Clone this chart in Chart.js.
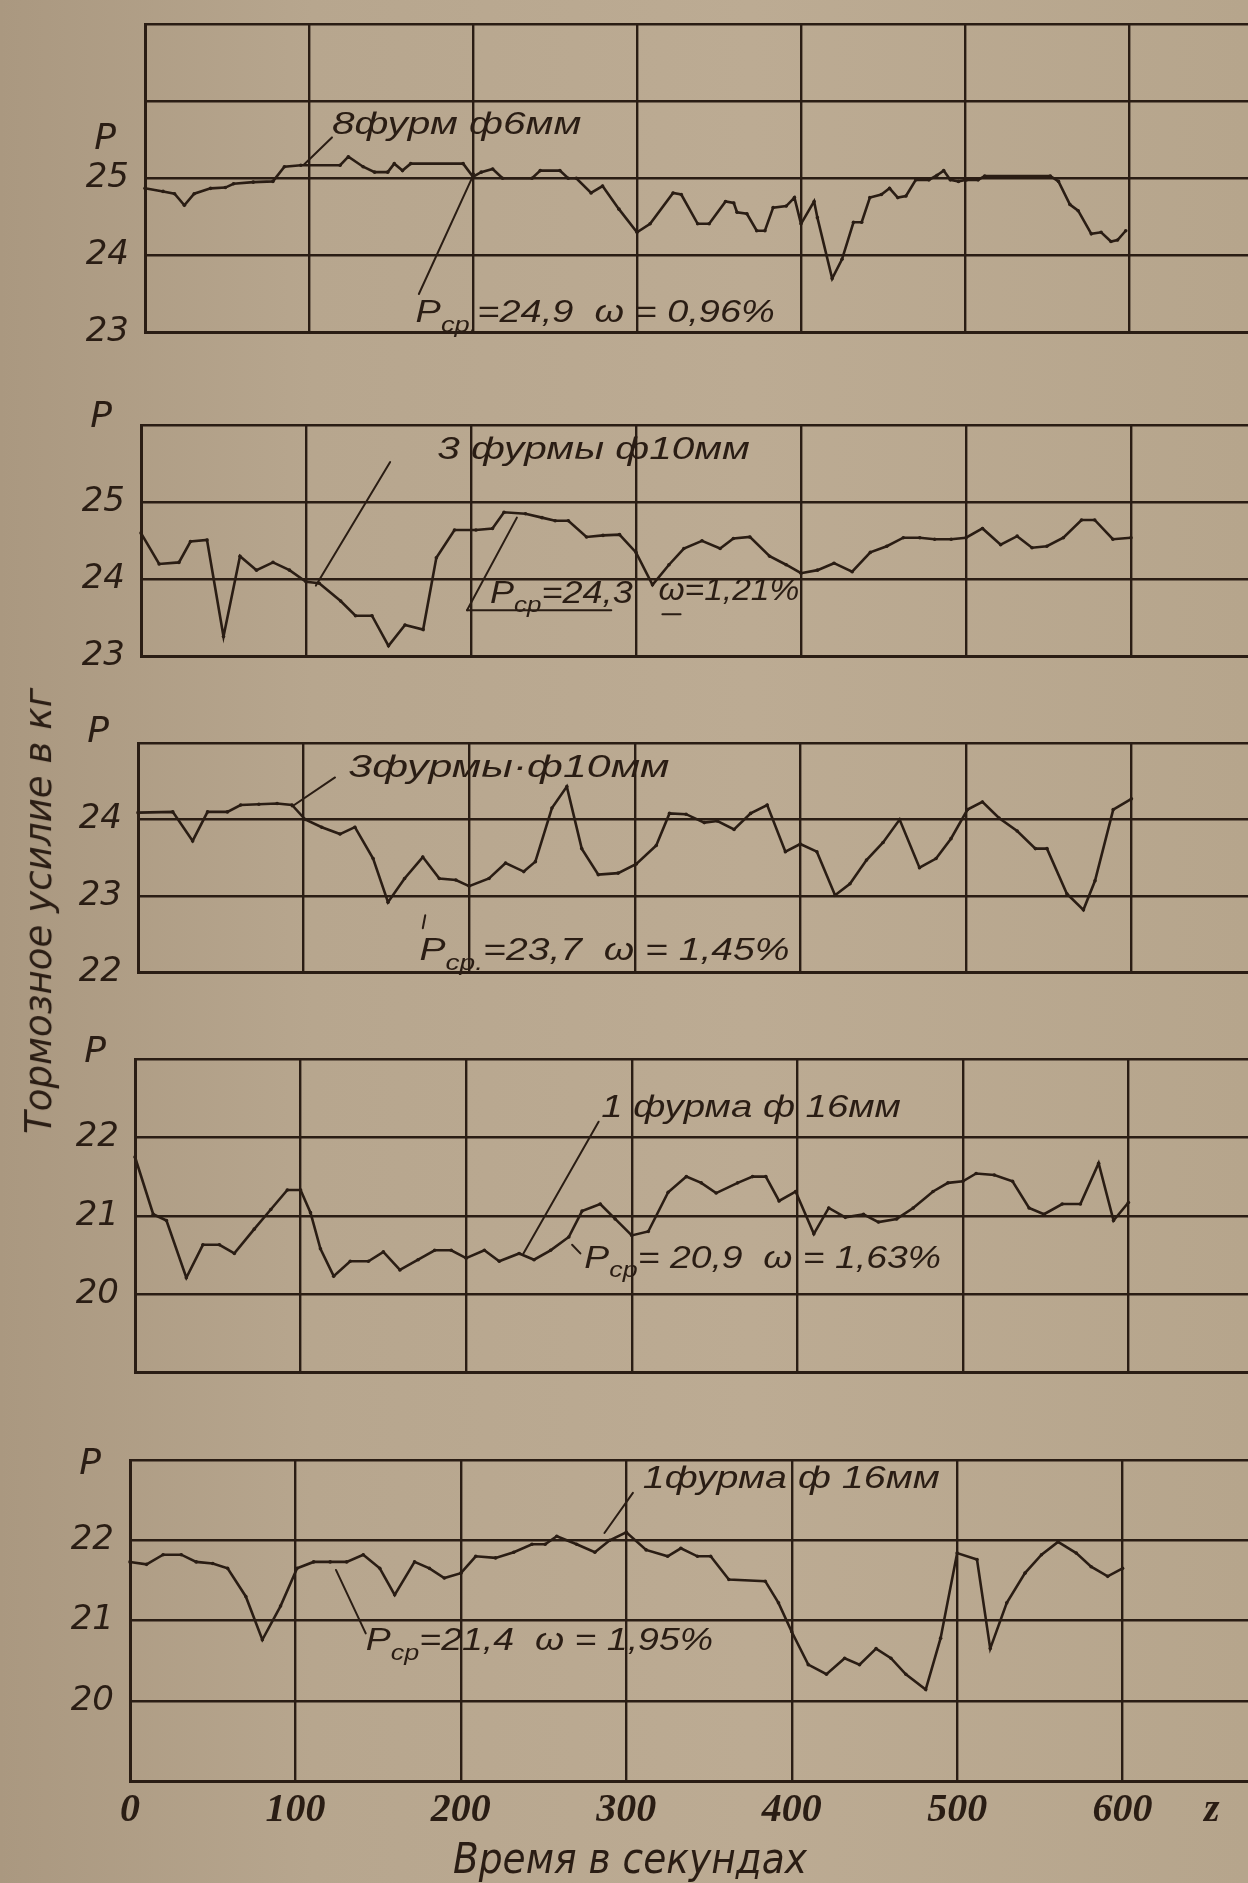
<!DOCTYPE html>
<html>
<head>
<meta charset="utf-8">
<title>Тормозное усилие</title>
<script src="https://cdn.jsdelivr.net/npm/chart.js@4.4.1/dist/chart.umd.min.js"></script>
<style>
html, body { margin: 0; padding: 0; width: 1248px; height: 1883px; overflow: hidden; }
body {
    position: relative;
    background: linear-gradient(90deg, #aa9880 0%, #b7a68e 25%, #bcab93 60%, #b6a58c 100%);
}
canvas { position: absolute; left: 0; }
.ttl {
    position: absolute;
    white-space: nowrap;
    font-family: 'Liberation Sans Narrow', 'DejaVu Sans', sans-serif;
    font-style: italic;
    color: #2a1d14;
    transform-origin: center center;
}
</style>
</head>
<body>
<canvas id="c1"></canvas>
<canvas id="c2"></canvas>
<canvas id="c3"></canvas>
<canvas id="c4"></canvas>
<canvas id="c5"></canvas>
<div id="ytitle" class="ttl" style="font-size:38px">Тормозное усилие в кг</div>
<div id="xtitle" class="ttl" style="font-size:42px">Время в секундах</div>

<script>
// Panel 1: 8 фурм ф6мм
const p1Time = [0, 11, 18, 24, 30, 40, 49, 54, 66, 78, 85, 95, 119, 124, 133, 140, 148, 152, 157, 162, 194, 200, 205, 212, 218, 236, 241, 253, 258, 263, 272, 279, 289, 300,
    308, 322, 327, 337, 344, 354, 359, 361, 367, 373, 378, 383, 391, 396, 400, 408, 410, 419, 425, 432, 437, 442, 449, 454, 459, 464, 470, 478, 483, 487, 491, 496, 501, 508, 512, 552, 557, 564, 569, 577, 583, 589, 593, 598];
const p1Force = [24.87, 24.83, 24.8, 24.65, 24.8, 24.87, 24.88, 24.93, 24.95, 24.96, 25.15, 25.17, 25.17, 25.28, 25.15, 25.08, 25.08, 25.19, 25.1, 25.19, 25.19, 25.02, 25.08, 25.12, 25.0, 25.0, 25.1, 25.1, 25.0, 25.0, 24.81, 24.9, 24.6, 24.3,
    24.41, 24.81, 24.79, 24.41, 24.41, 24.7, 24.68, 24.56, 24.54, 24.32, 24.32, 24.62, 24.64, 24.75, 24.41, 24.7, 24.49, 23.7, 23.95, 24.43, 24.43, 24.75, 24.79, 24.87, 24.75, 24.77, 24.98, 24.98, 25.04, 25.1, 24.98, 24.96, 24.98, 24.98, 25.03, 25.03, 24.96, 24.66, 24.58, 24.28, 24.3, 24.18, 24.2, 24.32];

// Panel 2: 3 фурмы ф10мм
const p2Time = [0, 11, 23, 30, 40, 50, 60, 70, 80, 90, 100, 108, 121, 130, 140, 150, 160, 171, 179, 190, 203, 213, 220, 233, 243, 251, 259, 270, 280, 290, 300,
    310, 320, 329, 340, 351, 359, 369, 381, 391, 400, 410, 420, 431, 442, 452, 462, 472, 481, 491, 500, 510, 521, 531, 540, 549, 559, 570, 578, 589, 600];
const p2Force = [24.6, 24.2, 24.22, 24.49, 24.51, 23.26, 24.3, 24.12, 24.22, 24.12, 23.97, 23.95, 23.72, 23.53, 23.53, 23.14, 23.41, 23.35, 24.28, 24.64, 24.64, 24.66, 24.87, 24.85, 24.8, 24.76, 24.76, 24.55, 24.57, 24.58, 24.35,
    23.93, 24.19, 24.4, 24.5, 24.4, 24.53, 24.55, 24.3, 24.19, 24.08, 24.12, 24.21, 24.1, 24.35, 24.43, 24.54, 24.54, 24.52, 24.52, 24.54, 24.66, 24.45, 24.56, 24.41, 24.43, 24.54, 24.77, 24.77, 24.52, 24.54];

// Panel 3: 3 фурмы ф10мм
const p3Time = [0, 21, 33, 42, 54, 62, 73, 84, 93, 101, 111, 122, 131, 142, 151, 161, 172, 182, 192, 200, 212, 222, 233, 240, 250, 259, 268, 278, 290, 301,
    313, 321, 331, 342, 350, 360, 370, 380, 391, 400, 410, 421, 430, 440, 450, 460, 472, 482, 491, 501, 510, 520, 531, 542, 549, 561, 571, 578, 589, 600];
const p3Force = [24.09, 24.1, 23.72, 24.1, 24.1, 24.19, 24.2, 24.21, 24.19, 24.0, 23.9, 23.81, 23.9, 23.49, 22.92, 23.23, 23.51, 23.23, 23.21, 23.13, 23.23, 23.43, 23.32, 23.45, 24.15, 24.43, 23.62, 23.28, 23.3, 23.42,
    23.66, 24.08, 24.07, 23.96, 23.98, 23.87, 24.08, 24.19, 23.58, 23.68, 23.58, 23.01, 23.16, 23.47, 23.7, 24.0, 23.37, 23.49, 23.75, 24.13, 24.23, 24.02, 23.85, 23.62, 23.62, 23.03, 22.82, 23.2, 24.13, 24.27];

// Panel 4: 1 фурма ф16мм
const p4Time = [0, 11, 19, 31, 41, 51, 60, 72, 82, 92, 100, 106, 112, 120, 130, 141, 150, 160, 171, 181, 191, 200, 211, 220, 232, 241, 251, 262, 270, 281, 290, 300,
    310, 322, 333, 342, 351, 364, 373, 381, 389, 399, 410, 419, 429, 440, 449, 460, 470, 482, 491, 500, 508, 519, 530, 540, 549, 560, 571, 582, 591, 600];
const p4Force = [21.75, 21.02, 20.94, 20.21, 20.63, 20.63, 20.52, 20.83, 21.08, 21.33, 21.33, 21.04, 20.58, 20.23, 20.42, 20.42, 20.54, 20.31, 20.44, 20.56, 20.56, 20.46, 20.56, 20.42, 20.52, 20.44, 20.56, 20.73, 21.06, 21.15, 20.96, 20.75,
    20.8, 21.3, 21.5, 21.42, 21.29, 21.42, 21.5, 21.5, 21.19, 21.31, 20.77, 21.1, 20.98, 21.02, 20.92, 20.96, 21.1, 21.31, 21.42, 21.44, 21.54, 21.52, 21.44, 21.1, 21.02, 21.15, 21.15, 21.67, 20.94, 21.17];

// Panel 5: 1 фурма ф16мм
const p5Time = [0, 10, 20, 31, 40, 50, 59, 70, 80, 91, 101, 111, 121, 131, 141, 151, 160, 172, 181, 190, 200, 209, 221, 232, 243, 251, 258, 270, 281, 290, 300,
    312, 325, 333, 343, 351, 362, 384, 392, 400, 410, 421, 432, 441, 451, 460, 469, 481, 490, 500, 512, 520, 530, 541, 551, 561, 572, 581, 591, 600];
const p5Force = [21.73, 21.7, 21.82, 21.82, 21.73, 21.71, 21.65, 21.3, 20.76, 21.18, 21.65, 21.73, 21.73, 21.73, 21.82, 21.65, 21.32, 21.73, 21.65, 21.53, 21.59, 21.8, 21.78, 21.85, 21.95, 21.95, 22.05, 21.95, 21.85, 22.0, 22.1,
    21.88, 21.8, 21.9, 21.8, 21.8, 21.51, 21.49, 21.22, 20.86, 20.45, 20.33, 20.53, 20.45, 20.65, 20.53, 20.33, 20.14, 20.78, 21.84, 21.76, 20.65, 21.22, 21.59, 21.82, 21.98, 21.84, 21.67, 21.55, 21.65];

// tick labels
const p1Ticks = [23, 24, 25];
const p2Ticks = [23, 24, 25];
const p3Ticks = [22, 23, 24];
const p4Ticks = [20, 21, 22];
const p5Ticks = [20, 21, 22];
const timeTicks = [0, 100, 200, 300, 400, 500, 600];

const ink = '#2a1d14';
const padTop = 40;

// handwritten notes: text pieces are [string, isSubscript]
const panels = [
    { id: 'c1', time: p1Time, force: p1Force, ticks: p1Ticks, x0: 145, x600: 1132, top: 24, bottom: 339, min: 23, max: 27, pAt: 25.5,
      texts: [
          { t: 114, p: 25.57, w: 152, parts: [['8фурм ф6мм', 0]] },
          { t: 165, p: 23.14, w: 219, parts: [['P', 0], ['ср.', 1], ['=24,9  ω = 0,96%', 0]] }
      ],
      lines: [[114, 25.53, 97, 25.18], [167, 23.5, 200.6, 25.06]] },
    { id: 'c2', time: p2Time, force: p2Force, ticks: p2Ticks, x0: 141, x600: 1134, top: 425, bottom: 663, min: 23, max: 26, pAt: 26.09,
      texts: [
          { t: 179.5, p: 25.56, w: 189.5, parts: [['3 фурмы ф10мм', 0]] },
          { t: 211.5, p: 23.7, w: 86.5, parts: [['P', 0], ['ср', 1], ['=24,3', 0]] },
          { t: 313.6, p: 23.73, w: 85.4, parts: [['ω=1,21%', 0]] }
      ],
      lines: [[151, 25.52, 106, 23.92], [197.6, 23.6, 227.8, 24.8], [197.6, 23.6, 285, 23.6], [316, 23.55, 327, 23.55]] },
    { id: 'c3', time: p3Time, force: p3Force, ticks: p3Ticks, x0: 138, x600: 1135, top: 743, bottom: 979, min: 22, max: 25, pAt: 25.14,
      texts: [
          { t: 127, p: 24.55, w: 194, parts: [['3фурмы·ф10мм', 0]] },
          { t: 170, p: 22.16, w: 223.5, parts: [['P', 0], ['ср.', 1], ['=23,7  ω = 1,45%', 0]] }
      ],
      lines: [[119, 24.55, 93, 24.17], [172, 22.58, 173.5, 22.75]] },
    { id: 'c4', time: p4Time, force: p4Force, ticks: p4Ticks, x0: 135, x600: 1132, top: 1059, bottom: 1379, min: 19, max: 23, pAt: 23.08,
      texts: [
          { t: 281.6, p: 22.26, w: 181, parts: [['1 фурма ф 16мм', 0]] },
          { t: 271.4, p: 20.34, w: 215.4, parts: [['P', 0], ['ср', 1], ['= 20,9  ω = 1,63%', 0]] }
      ],
      lines: [[280, 22.2, 234.6, 20.52], [269, 20.52, 264, 20.63]] },
    { id: 'c5', time: p5Time, force: p5Force, ticks: p5Ticks, x0: 130, x600: 1128, top: 1460, bottom: 1781, min: 19, max: 23, pAt: 22.94,
      texts: [
          { t: 310, p: 22.65, w: 179.5, parts: [['1фурма ф 16мм', 0]] },
          { t: 142.5, p: 20.63, w: 210, parts: [['P', 0], ['ср', 1], ['=21,4  ω = 1,95%', 0]] }
      ],
      lines: [[304, 22.59, 286.8, 22.09], [142.5, 20.84, 124.5, 21.63]],
      axisMark: { t: 654, s: 'z' },
      showTime: true }
];

const noteFont = "'Liberation Sans Narrow', sans-serif";

// draw the handwritten remarks, leader lines and the P labels
const notesPlugin = {
    id: 'notes',
    afterDatasetsDraw(chart, args, opts) {
        const ctx = chart.ctx;
        const x = chart.scales.x, y = chart.scales.y;
        ctx.save();
        ctx.strokeStyle = ink;
        ctx.fillStyle = ink;
        ctx.lineWidth = 2;
        ctx.lineCap = 'round';
        (opts.lines || []).forEach(l => {
            ctx.beginPath();
            ctx.moveTo(x.getPixelForValue(l[0]), y.getPixelForValue(l[1]));
            ctx.lineTo(x.getPixelForValue(l[2]), y.getPixelForValue(l[3]));
            ctx.stroke();
        });

        const fs = 31;
        ctx.textBaseline = 'alphabetic';
        (opts.texts || []).forEach(tx => {
            let total = 0;
            tx.parts.forEach(pt => {
                ctx.font = 'italic ' + (pt[1] ? fs * 0.72 : fs) + 'px ' + noteFont;
                total += ctx.measureText(pt[0]).width;
            });
            const px = x.getPixelForValue(tx.t);
            const target = x.getPixelForValue(tx.t + tx.w) - px;
            ctx.save();
            ctx.translate(px, y.getPixelForValue(tx.p));
            ctx.scale(target / total, 1);
            let cx = 0;
            tx.parts.forEach(pt => {
                ctx.font = 'italic ' + (pt[1] ? fs * 0.72 : fs) + 'px ' + noteFont;
                ctx.fillText(pt[0], cx, pt[1] ? fs * 0.32 : 0);
                cx += ctx.measureText(pt[0]).width;
            });
            ctx.restore();
        });

        // P over the numbers
        ctx.font = "italic 36px 'DejaVu Sans'";
        ctx.textAlign = 'center';
        ctx.textBaseline = 'middle';
        ctx.fillText('P', chart.chartArea.left - 40, y.getPixelForValue(opts.pAt));

        if (opts.axisMark) {
            ctx.font = "italic bold 40px 'Liberation Sans Narrow'";
            ctx.fillText(opts.axisMark.s, x.getPixelForValue(opts.axisMark.t), chart.chartArea.bottom + 30);
        }
        ctx.restore();
    }
};

function makePanel(cfg) {
    const cv = document.getElementById(cfg.id);
    const sp = (cfg.x600 - cfg.x0) / 6;
    const w = Math.round(cfg.x0 + 7 * sp);
    const bottomPad = cfg.showTime ? 100 : 30;
    const h = padTop + (cfg.bottom - cfg.top) + bottomPad;
    cv.width = w;
    cv.height = h;
    cv.style.width = w + 'px';
    cv.style.height = h + 'px';
    cv.style.top = (cfg.top - padTop) + 'px';

    const gridOpts = { color: ink, lineWidth: 2.4, drawTicks: false };

    new Chart(cv.getContext('2d'), {
        type: 'line',
        data: {
            datasets: [{
                data: cfg.time.map((t, i) => ({ x: t, y: cfg.force[i] })),
                borderColor: ink,
                borderWidth: 2.6,
                pointRadius: 1.8,
                pointBackgroundColor: ink,
                pointBorderWidth: 0,
                tension: 0,
                clip: false
            }]
        },
        options: {
            responsive: false,
            animation: false,
            devicePixelRatio: 1,
            layout: { padding: { top: padTop, left: 0, right: 0, bottom: 0 } },
            plugins: {
                legend: { display: false },
                tooltip: { enabled: false },
                notes: { texts: cfg.texts, lines: cfg.lines, pAt: cfg.pAt, axisMark: cfg.axisMark }
            },
            scales: {
                x: {
                    type: 'linear',
                    min: 0,
                    max: 700,
                    grid: gridOpts,
                    border: { color: ink, width: 3 },
                    ticks: {
                        display: !!cfg.showTime,
                        stepSize: 100,
                        padding: 6,
                        color: ink,
                        font: { family: 'Liberation Sans Narrow', size: 40, style: 'italic', weight: 'bold' },
                        maxRotation: 0,
                        callback: v => timeTicks.includes(v) ? String(v) : ''
                    },
                    afterFit: s => { s.height = bottomPad; }
                },
                y: {
                    min: cfg.min,
                    max: cfg.max,
                    grid: gridOpts,
                    border: { color: ink, width: 3 },
                    ticks: {
                        stepSize: 1,
                        padding: 16,
                        color: ink,
                        font: { family: 'DejaVu Sans', size: 34, style: 'italic' },
                        callback: v => cfg.ticks.includes(v) ? String(v) : ''
                    },
                    afterFit: s => { s.width = cfg.x0; }
                }
            }
        },
        plugins: [notesPlugin]
    });
}

panels.forEach(makePanel);

// axis titles, stretched to the width they have in the drawing
function placeTitle(id, width, cx, cy, rot) {
    const el = document.getElementById(id);
    const w = el.offsetWidth, h = el.offsetHeight;
    el.style.left = (cx - w / 2) + 'px';
    el.style.top = (cy - h / 2) + 'px';
    el.style.transform = 'rotate(' + rot + 'deg) scaleX(' + (width / w) + ')';
}
placeTitle('ytitle', 446, 38, 911, -90);
placeTitle('xtitle', 354, 630, 1858, 0);
</script>
</body>
</html>
